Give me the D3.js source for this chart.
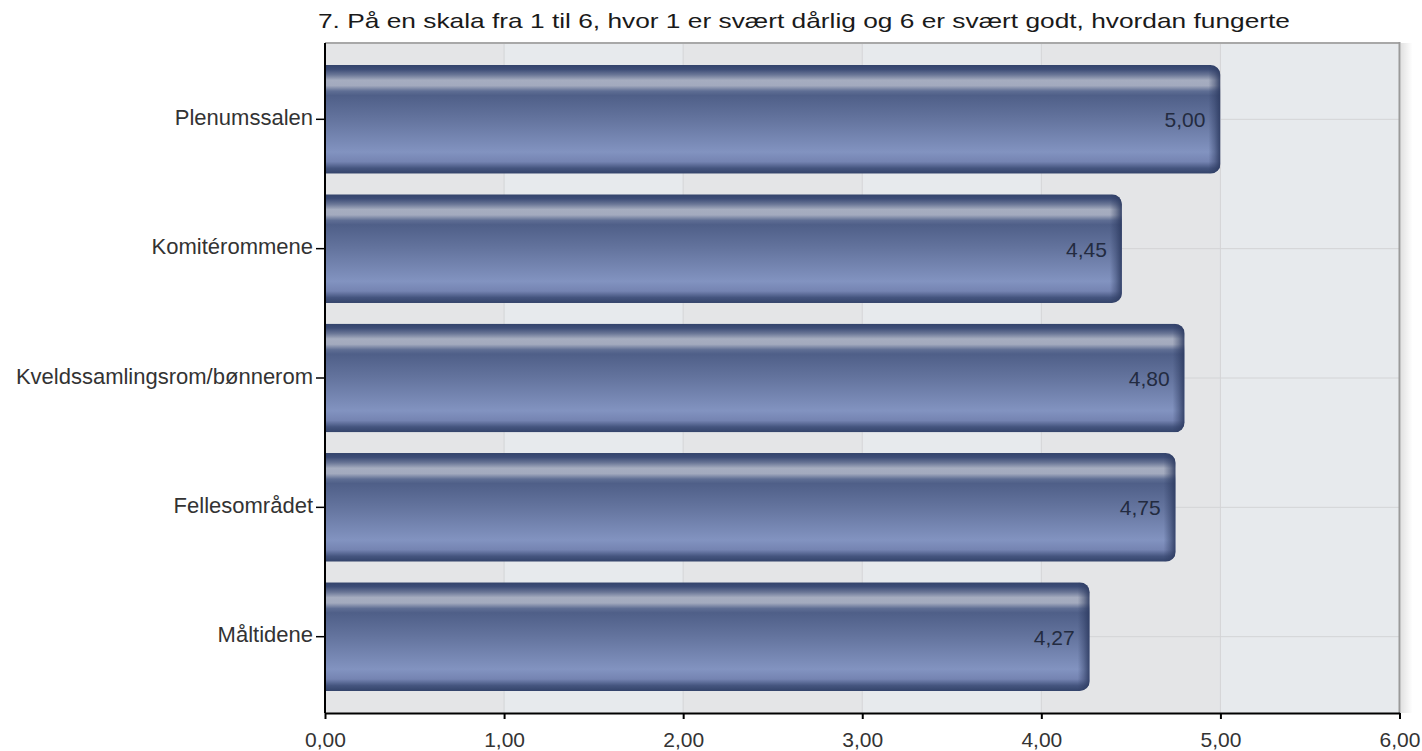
<!DOCTYPE html>
<html><head><meta charset="utf-8">
<script src="https://cdn.jsdelivr.net/npm/d3@7"></script>
<style>body{margin:0;background:#fff;}svg{display:block;font-family:"Liberation Sans",Arial,sans-serif;}</style>
</head><body>
<svg id="c" width="1422" height="751"></svg>
<script>
const title = "7. På en skala fra 1 til 6, hvor 1 er svært dårlig og 6 er svært godt, hvordan fungerte";
const categories = ["Plenumssalen","Komitérommene","Kveldssamlingsrom/bønnerom","Fellesområdet","Måltidene"];
const values = [5.00, 4.45, 4.80, 4.75, 4.27];
const tickValues = [0,1,2,3,4,5,6];
const fmt = v => v.toFixed(2).replace(".", ",");

const svg = d3.select("#c");
const L = 325, R = 1399.5, T = 43, B = 713;
const x = d3.scaleLinear().domain([0,6]).range([L,R]);
const y = d3.scaleBand().domain(categories).range([T,B]).paddingInner(0.16).paddingOuter(0.17);

const defs = svg.append("defs");
const g1 = defs.append("linearGradient").attr("id","barv").attr("x1",0).attr("y1",0).attr("x2",0).attr("y2",1);
[[0,"#33436b"],[0.04,"#3d4d77"],[0.09,"#6a7696"],[0.14,"#a6adc0"],[0.19,"#a3aabe"],[0.24,"#5f6e94"],[0.28,"#4f5f88"],[0.50,"#64749e"],[0.80,"#8293c0"],[0.89,"#7584b2"],[0.95,"#45557f"],[1,"#33436a"]]
  .forEach(([o,c])=>g1.append("stop").attr("offset",o).attr("stop-color",c));
const g2 = defs.append("linearGradient").attr("id","barh").attr("x1",0).attr("y1",0).attr("x2",1).attr("y2",0);
[[0,"#2c3a60",0],[0.5,"#2c3a60",0.4],[1,"#2c3a60",0.9]]
  .forEach(([o,c,a])=>g2.append("stop").attr("offset",o).attr("stop-color",c).attr("stop-opacity",a));
const sh = defs.append("linearGradient").attr("id","shadow").attr("x1",0).attr("y1",0).attr("x2",1).attr("y2",0);
sh.append("stop").attr("offset",0).attr("stop-color","#000").attr("stop-opacity",0.12);
sh.append("stop").attr("offset",1).attr("stop-color","#000").attr("stop-opacity",0);

// background column bands
const bands = tickValues.slice(0,-1);
svg.append("g").selectAll("rect").data(bands).join("rect")
  .attr("x",d=>x(d)).attr("width",d=>x(d+1)-x(d)).attr("y",T).attr("height",B-T)
  .attr("fill",(d,i)=>i%2===0?"#e4e5e7":"#e7eaed");

// grid
svg.append("g").selectAll("line").data(tickValues.slice(1,-1)).join("line")
  .attr("x1",d=>x(d)).attr("x2",d=>x(d)).attr("y1",T).attr("y2",B)
  .attr("stroke","#d3d4d6").attr("stroke-width",1);
svg.append("g").selectAll("line").data(categories).join("line")
  .attr("x1",L).attr("x2",R).attr("y1",d=>y(d)+y.bandwidth()/2).attr("y2",d=>y(d)+y.bandwidth()/2)
  .attr("stroke","#d3d4d6").attr("stroke-width",1);

// frame top/right
svg.append("rect").attr("x",R+1).attr("y",T).attr("width",12).attr("height",B-T).attr("fill","url(#shadow)");
svg.append("line").attr("x1",L).attr("x2",R).attr("y1",T).attr("y2",T).attr("stroke","#a8a8a8").attr("stroke-width",2);
svg.append("line").attr("x1",R).attr("x2",R).attr("y1",T-1).attr("y2",B).attr("stroke","#9a9a9a").attr("stroke-width",2);

// bars
const bars = svg.append("g");
const data = categories.map((c,i)=>({c,v:values[i]}));
const clip = defs.selectAll("clipPath").data(data).join("clipPath").attr("id",(d,i)=>"cl"+i);
clip.append("rect").attr("x",L-12).attr("y",d=>y(d.c)).attr("width",d=>x(d.v)-L+12).attr("height",y.bandwidth()).attr("rx",10).attr("ry",10);
const bg = bars.selectAll("g").data(data).join("g").attr("clip-path",(d,i)=>"url(#cl"+i+")");
bg.append("rect").attr("x",L).attr("y",d=>y(d.c)).attr("width",d=>x(d.v)-L).attr("height",y.bandwidth()).attr("fill","url(#barv)");
bg.append("rect").attr("x",d=>x(d.v)-12).attr("y",d=>y(d.c)).attr("width",12).attr("height",y.bandwidth()).attr("fill","url(#barh)");

// value labels
svg.append("g").selectAll("text").data(data).join("text")
  .attr("x",d=>x(d.v)-15).attr("y",d=>y(d.c)+y.bandwidth()/2+8)
  .attr("text-anchor","end").attr("font-size",21).attr("fill","#232b40")
  .text(d=>fmt(d.v));

// axes
const xa = svg.append("g").attr("transform",`translate(0,${B})`)
  .call(d3.axisBottom(x).tickValues(tickValues).tickFormat(fmt).tickSize(6).tickSizeOuter(0).tickPadding(13));
xa.select(".domain").attr("stroke","#000").attr("stroke-width",2);
xa.selectAll(".tick line").attr("stroke","#000").attr("stroke-width",2);
xa.selectAll("text").attr("font-size",21).attr("fill","#333").attr("font-family","Liberation Sans, Arial, sans-serif");

const ya = svg.append("g").attr("transform",`translate(${L},0)`)
  .call(d3.axisLeft(y).tickSize(9).tickSizeOuter(0).tickPadding(3));
ya.select(".domain").attr("stroke","#000").attr("stroke-width",2).attr("d",`M0,${T}V${B}`);
ya.selectAll(".tick line").attr("stroke","#000").attr("stroke-width",1.5);
ya.selectAll("text").attr("font-size",22).attr("fill","#333").attr("dy","0.25em").attr("font-family","Liberation Sans, Arial, sans-serif");

svg.append("text").attr("x",318).attr("y",28).attr("font-size",21).attr("fill","#1a1a1a")
  .attr("textLength",972).attr("lengthAdjust","spacingAndGlyphs").text(title);
</script>
</body></html>
